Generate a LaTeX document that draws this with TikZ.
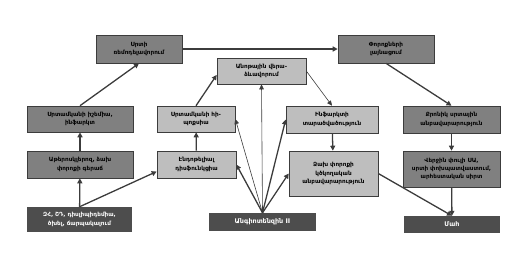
\documentclass[tikz,border=0pt]{standalone}
\usepackage{fontspec}
\setmainfont{DejaVu Sans}
\usetikzlibrary{arrows.meta}
\definecolor{boxdark}{RGB}{128,128,128}
\definecolor{boxlight}{RGB}{190,190,190}
\definecolor{boxblack}{RGB}{77,77,77}
\definecolor{lineg}{RGB}{60,60,60}
\begin{document}
\begin{tikzpicture}[x=1pt,y=-1pt,
  every node/.style={font=\bfseries\fontsize{5.7}{8.4}\selectfont,align=center,inner sep=0pt},
  dbox/.style={draw=lineg,fill=boxdark,line width=.6pt},
  lbox/.style={draw=lineg,fill=boxlight,line width=.6pt},
  kbox/.style={fill=boxblack,text=white},
  flow/.style={draw=lineg,line width=1.3pt,-{Triangle[length=5pt,width=5pt]}},
  thinflow/.style={draw=lineg,line width=.6pt,-{Triangle[length=5pt,width=4.5pt]}}]
\useasboundingbox (0,0) rectangle (513,263);
\node[dbox,minimum width=86pt,minimum height=28pt] (remod) at (139,49) {Սրտի\\ռեմոդելավորում};
\node[dbox,minimum width=96pt,minimum height=28pt] (dilat) at (386,49) {Փորոքների\\լայնացում};
\node[lbox,minimum width=89pt,minimum height=26pt] (vasc) at (261.5,71) {Անոթային վերա-\\ձևավորում};
\node[dbox,minimum width=106pt,minimum height=26pt] (isch) at (80,119) {Սրտամկանի իշեմիա,\\ինֆարկտ};
\node[lbox,minimum width=78pt,minimum height=26pt] (hypox) at (196,119) {Սրտամկանի հի-\\պոքսիա};
\node[lbox,minimum width=92pt,minimum height=27pt] (infarct) at (332,119.5) {Ինֆարկտի\\տարածվածություն};
\node[dbox,minimum width=97pt,minimum height=27pt] (chronic) at (451.5,119.5) {Քրոնիկ սրտային\\անբավարարություն};
\node[dbox,minimum width=106pt,minimum height=27pt] (ather) at (80,164.5) {Աթերոսկլերոզ, ձախ\\փորոքի գերաճ};
\node[lbox,minimum width=79pt,minimum height=27pt] (endo) at (196.5,164.5) {Էնդոթելիալ\\դիսֆունկցիա};
\node[lbox,minimum width=89pt,minimum height=45pt] (lvd) at (333.5,173.5) {Ձախ փորոքի\\կծկողական\\անբավարարություն};
\node[dbox,minimum width=97pt,minimum height=36pt] (endstage) at (451.5,169) {Վերջին փուլի ՍԱ,\\սրտի փոխպատվաստում,\\արհեստական սիրտ};
\node[kbox,minimum width=105pt,minimum height=25pt] (risk) at (79.5,219.5) {ԶՀ, ՇԴ, դիսլիպիդեմիա,\\ծխել, ճարպակալում};
\node[kbox,minimum width=107pt,minimum height=18pt,font=\bfseries\fontsize{6.4}{8}\selectfont] (angio) at (262.5,222) {Անգիոտենզին II};
\node[kbox,minimum width=96pt,minimum height=17pt,font=\bfseries\fontsize{6.4}{8}\selectfont] (death) at (452,224.5) {Մահ};
\draw[flow] (risk) -- (ather);
\draw[flow] (ather) -- (isch);
\draw[flow] (isch.north) -- (remod.south);
\draw[flow] (remod) -- (dilat);
\draw[flow] (dilat.south) -- (chronic.north);
\draw[flow] (chronic) -- (endstage);
\draw[flow] (endstage) -- (death);
\draw[flow] (lvd.east) -- (death.north);
\draw[flow] (risk.north) -- (endo.190);
\draw[flow] (endo) -- (hypox);
\draw[flow] (hypox.north) -- (vasc.185);
\draw[thinflow] (vasc.east) -- (infarct.north);
\draw[flow] (infarct) -- (lvd);
\draw[flow] (angio.north) -- (endo.east);
\draw[thinflow] (angio.north) -- (hypox.east);
\draw[thinflow] (angio.north) -- (vasc.south);
\draw[flow] (angio.north) -- (infarct.west);
\draw[flow] (angio.north) -- (lvd.west);
\end{tikzpicture}
\end{document}
